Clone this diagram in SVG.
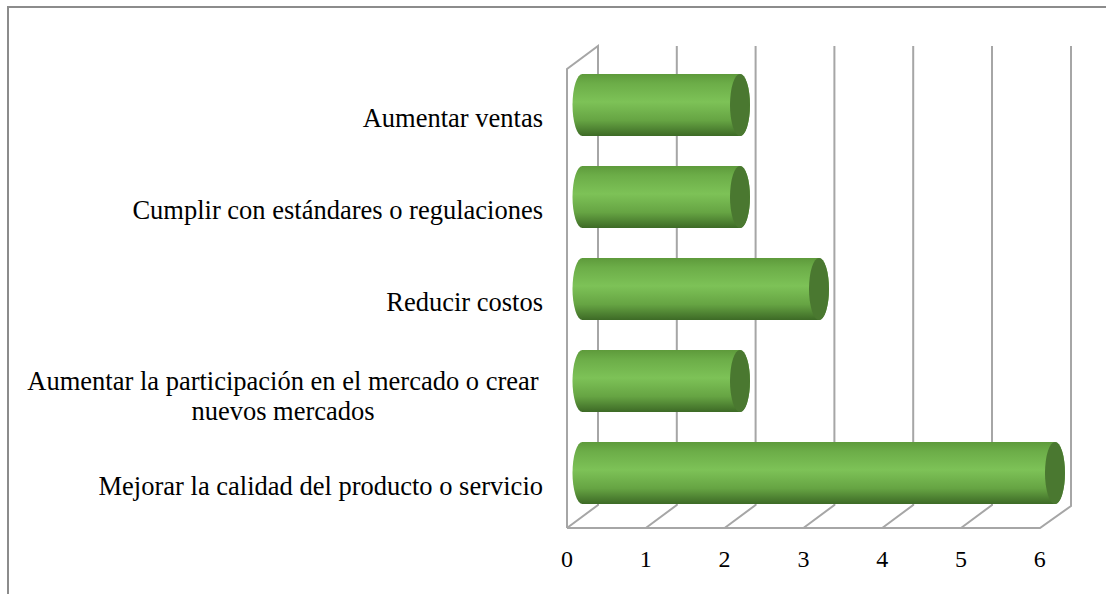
<svg xmlns="http://www.w3.org/2000/svg" width="1106" height="594" viewBox="0 0 1106 594">
<defs>
<linearGradient id="body" x1="0" y1="0" x2="0" y2="1">
<stop offset="0" stop-color="#5e9a3b"/>
<stop offset="0.15" stop-color="#6cad48"/>
<stop offset="0.45" stop-color="#7dc257"/>
<stop offset="0.75" stop-color="#66a443"/>
<stop offset="1" stop-color="#3d6a26"/>
</linearGradient>
</defs>
<style>
.frame{stroke:#8c8c8c;stroke-width:2;fill:none}
.grid{stroke:#a6a6a6;stroke-width:2;fill:none}
.body{fill:url(#body)}
.cap{fill:#4a7830}
text{font-family:'Liberation Serif','Times New Roman','DejaVu Serif',serif;fill:#000}
.lbl{font-size:26.5px}
.tick{font-size:24px;text-anchor:middle}
</style>
<rect x="0" y="0" width="1106" height="594" fill="#fff"/>
<path class="frame" d="M8,594 V7 H1106"/>
<g id="axes" class="grid">
<path d="M567,528 V69 L598,46 V505 L567,528"/>
<path d="M676.8,46 V505 L645.8,528"/>
<path d="M755.6,46 V505 L724.6,528"/>
<path d="M834.4,46 V505 L803.4,528"/>
<path d="M913.2,46 V505 L882.2,528"/>
<path d="M992,46 V505 L961,528"/>
<path d="M1071,46 V506 L1040,528 H567"/>
</g>
<g id="bar-aumentar-ventas">
<path class="body" d="M582.5,74 L740,74 A10,31 0 0 1 740,136 L582.5,136 A10,31 0 0 1 582.5,74 Z"/>
<ellipse class="cap" cx="740" cy="105" rx="10" ry="31"/>
</g>
<g id="bar-cumplir">
<path class="body" d="M582.5,166 L740,166 A10,31 0 0 1 740,228 L582.5,228 A10,31 0 0 1 582.5,166 Z"/>
<ellipse class="cap" cx="740" cy="197" rx="10" ry="31"/>
</g>
<g id="bar-reducir">
<path class="body" d="M582.5,258 L819,258 A10,31 0 0 1 819,320 L582.5,320 A10,31 0 0 1 582.5,258 Z"/>
<ellipse class="cap" cx="819" cy="289" rx="10" ry="31"/>
</g>
<g id="bar-participacion">
<path class="body" d="M582.5,350 L740,350 A10,31 0 0 1 740,412 L582.5,412 A10,31 0 0 1 582.5,350 Z"/>
<ellipse class="cap" cx="740" cy="381" rx="10" ry="31"/>
</g>
<g id="bar-calidad">
<path class="body" d="M582.5,442 L1055,442 A10,31 0 0 1 1055,504 L582.5,504 A10,31 0 0 1 582.5,442 Z"/>
<ellipse class="cap" cx="1055" cy="473" rx="10" ry="31"/>
</g>
<g id="labels">
<text class="lbl" x="543" y="127" text-anchor="end">Aumentar ventas</text>
<text class="lbl" x="543" y="219" text-anchor="end">Cumplir con estándares o regulaciones</text>
<text class="lbl" x="543" y="311" text-anchor="end">Reducir costos</text>
<text class="lbl" x="283" y="390" text-anchor="middle">Aumentar la participación en el mercado o crear</text>
<text class="lbl" x="283" y="420" text-anchor="middle">nuevos mercados</text>
<text class="lbl" x="543" y="495" text-anchor="end">Mejorar la calidad del producto o servicio</text>
</g>
<g id="ticks">
<text class="tick" x="567" y="567">0</text>
<text class="tick" x="645.8" y="567">1</text>
<text class="tick" x="724.6" y="567">2</text>
<text class="tick" x="803.4" y="567">3</text>
<text class="tick" x="882.2" y="567">4</text>
<text class="tick" x="961" y="567">5</text>
<text class="tick" x="1039.8" y="567">6</text>
</g>
</svg>
